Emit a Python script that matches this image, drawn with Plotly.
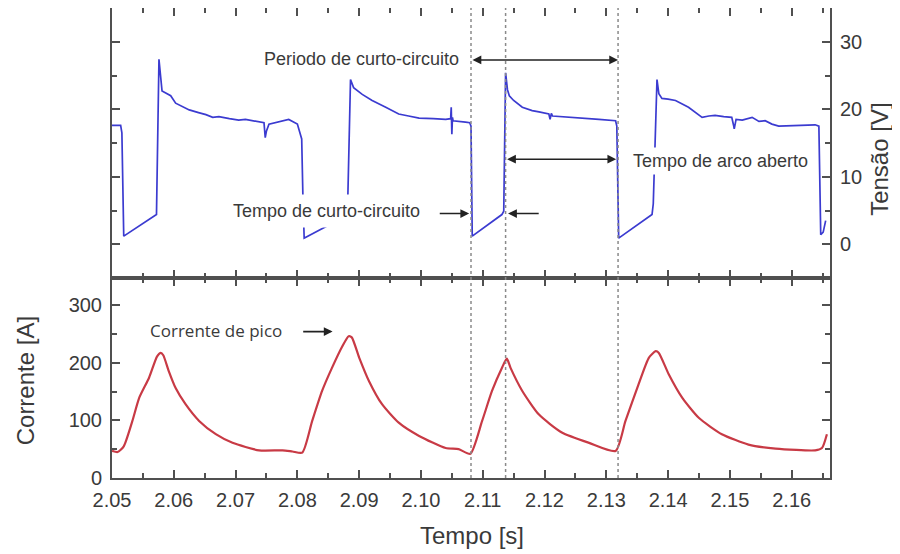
import plotly.graph_objects as go

# ---------------- data ----------------
voltage_time = [
    2.0500, 2.0514, 2.0516, 2.0519, 2.0572, 2.0576, 2.0581, 2.0588, 2.0595, 2.0603,
    2.0612, 2.0625, 2.0640, 2.0652, 2.0663, 2.0673, 2.0690, 2.0705, 2.0716, 2.0730,
    2.0746, 2.0748, 2.0750, 2.0754, 2.0770, 2.0786, 2.0800, 2.0807, 2.0809, 2.0810,
    2.0811, 2.0813, 2.0881, 2.0886, 2.0891, 2.0905, 2.0921, 2.0943, 2.0964, 2.0980,
    2.0997, 2.1020, 2.1040, 2.1048, 2.1049, 2.1050, 2.1051, 2.1052, 2.1072, 2.1079,
    2.1081, 2.1083, 2.1131, 2.1134, 2.1137, 2.1140, 2.1143, 2.1150, 2.1164, 2.1180,
    2.1191, 2.1207, 2.1209, 2.1211, 2.1213, 2.1230, 2.1250, 2.1270, 2.1288, 2.1315,
    2.1317, 2.1320, 2.1374, 2.1376, 2.1382, 2.1385, 2.1390, 2.1400, 2.1412, 2.1433,
    2.1445, 2.1455, 2.1466, 2.1476, 2.1490, 2.1503, 2.1506, 2.1507, 2.1510, 2.1520,
    2.1536, 2.1547, 2.1557, 2.1568, 2.1579, 2.1600, 2.1620, 2.1638, 2.1644, 2.1647,
    2.1651, 2.1655,
]
voltage_values = [
    17.6, 17.6, 16.5, 1.2, 4.4, 27.4, 22.7, 22.3, 22.0, 20.9,
    20.5, 19.9, 19.5, 19.2, 18.8, 18.9, 18.6, 18.4, 18.5, 18.3,
    18.0, 15.8, 16.8, 17.8, 18.2, 18.5, 17.8, 15.6, 7.0, 1.5,
    0.9, 1.0, 4.3, 24.4, 23.2, 22.2, 21.3, 20.3, 19.3, 19.0,
    18.7, 18.6, 18.5, 18.6, 20.3, 16.3, 18.8, 18.3, 18.1, 18.0,
    17.5, 1.2, 4.4, 4.9, 25.4, 22.9, 22.0, 21.3, 20.3, 19.8,
    19.6, 19.3, 18.5, 19.4, 19.0, 18.9, 18.8, 18.6, 18.5, 18.3,
    17.5, 0.9, 4.4, 6.0, 24.4, 22.3, 21.6, 21.5, 21.3, 20.3,
    19.5, 18.8, 19.0, 19.1, 18.9, 18.8, 17.6, 17.1, 18.5, 18.4,
    18.8, 18.2, 18.3, 17.8, 17.5, 17.6, 17.6, 17.7, 17.5, 1.4,
    1.8, 3.5,
]

current_time = [
    2.0500, 2.0509, 2.0519, 2.0533, 2.0544, 2.0560, 2.0573, 2.0579, 2.0583, 2.0592,
    2.0603, 2.0619, 2.0641, 2.0668, 2.0695, 2.0738, 2.0776, 2.0792, 2.0808, 2.0824,
    2.0840, 2.0856, 2.0873, 2.0883, 2.0888, 2.0900, 2.0916, 2.0937, 2.0964, 2.0997,
    2.1040, 2.1061, 2.1080, 2.1099, 2.1115, 2.1131, 2.1139, 2.1145, 2.1164, 2.1191,
    2.1228, 2.1272, 2.1315, 2.1331, 2.1352, 2.1369, 2.1380, 2.1385, 2.1401, 2.1423,
    2.1450, 2.1487, 2.1530, 2.1574, 2.1638, 2.1649, 2.1657,
]
current_values = [
    47, 45, 55, 99, 139, 174, 211, 217, 213, 185,
    156, 128, 99, 76, 61, 48, 48, 46, 44, 99,
    151, 191, 229, 246, 244, 209, 168, 128, 96, 73,
    52, 50, 42, 99, 151, 191, 207, 191, 151, 110,
    79, 61, 47, 99, 162, 209, 220, 217, 180, 139,
    104, 76, 58, 51, 48, 52, 76,
]

event_times = [2.1081, 2.1137, 2.1319]   # dotted reference lines

x_ticks = [2.05, 2.06, 2.07, 2.08, 2.09, 2.10, 2.11, 2.12, 2.13, 2.14, 2.15, 2.16]
x_tick_labels = ["2.05", "2.06", "2.07", "2.08", "2.09", "2.10",
                 "2.11", "2.12", "2.13", "2.14", "2.15", "2.16"]
v_ticks = [0, 10, 20, 30]
i_ticks = [0, 100, 200, 300]

# ---------------- figure ----------------
FONT = "Liberation Sans, Arial, sans-serif"
TXT = "#3a3a3a"
AX = "#505050"

fig = go.Figure()
fig.add_trace(go.Scatter(x=voltage_time, y=voltage_values, mode="lines",
                         line=dict(color="#3b3bd0", width=1.7),
                         xaxis="x2", yaxis="y2", showlegend=False))
fig.add_trace(go.Scatter(x=current_time, y=current_values, mode="lines",
                         line=dict(color="#c83a45", width=2.2, shape="spline",
                                   smoothing=0.6),
                         xaxis="x", yaxis="y", showlegend=False))

split = 200 / 470

common_x = dict(range=[2.05, 2.1662], tickmode="array", tickvals=x_ticks,
                ticktext=x_tick_labels, ticks="inside", ticklen=8, tickwidth=1.5,
                tickcolor=AX, minor=dict(dtick=0.005, tick0=2.05, ticks="inside",
                                         ticklen=5, tickwidth=1.5, tickcolor=AX),
                showline=True, linecolor=AX, linewidth=2, mirror="ticks",
                showgrid=False, zeroline=False, ticklabelstandoff=3,
                tickfont=dict(family=FONT, size=20, color=TXT))

# the page puts the figure 8 px in from the top-left corner; margins compensate
fig.update_layout(
    width=900, height=554,
    margin=dict(l=104, r=78, t=0, b=84, autoexpand=False),
    paper_bgcolor="white", plot_bgcolor="white",
    xaxis=dict(**common_x, anchor="y", domain=[0, 1]),
    xaxis2=dict(**common_x, anchor="y2", domain=[0, 1], matches="x",
                showticklabels=False),
    yaxis=dict(domain=[0, split], range=[0, 347], tickmode="array",
               tickvals=i_ticks, ticks="inside", ticklen=8, tickwidth=1.5,
               tickcolor=AX, minor=dict(dtick=50, tick0=0, ticks="inside",
                                        ticklen=5, tickwidth=1.5, tickcolor=AX),
               showline=True, linecolor=AX, linewidth=2, mirror="ticks",
               showgrid=False, zeroline=False, anchor="x", ticklabelstandoff=4,
               tickfont=dict(family=FONT, size=20, color=TXT)),
    yaxis2=dict(domain=[split, 1], range=[-5, 35], tickmode="array",
                tickvals=v_ticks, ticks="inside", ticklen=8, tickwidth=1.5,
                tickcolor=AX, minor=dict(dtick=5, tick0=0, ticks="inside",
                                         ticklen=5, tickwidth=1.5, tickcolor=AX),
                showline=True, linecolor=AX, linewidth=2, mirror="ticks",
                showgrid=False, zeroline=False, anchor="x2", side="right",
                ticklabelstandoff=4,
                tickfont=dict(family=FONT, size=20, color=TXT)),
)

# dotted reference lines across both panels
for t in event_times:
    fig.add_shape(type="line", xref="x", yref="paper", x0=t, x1=t, y0=0, y1=1,
                  line=dict(color="#8a8a8a", width=1.5, dash="dot"))

ann_font = dict(family=FONT, size=18, color=TXT)

def arrow(x_head, y_head, x_tail, y_tail, xr, yr, both=False):
    fig.add_annotation(x=x_head, y=y_head, ax=x_tail, ay=y_tail, xref=xr, yref=yr,
                       axref=xr, ayref=yr, text="", showarrow=True, arrowhead=2,
                       arrowsize=1.1, arrowwidth=1.6, arrowcolor="#222222",
                       arrowside="end+start" if both else "end")

# arrows (top panel)
arrow(event_times[2], 27.3, event_times[0], 27.3, "x2", "y2", both=True)
arrow(2.1316, 12.6, event_times[1], 12.6, "x2", "y2", both=True)
arrow(2.1078, 4.55, 2.1028, 4.55, "x2", "y2")
arrow(2.1141, 4.55, 2.1193, 4.55, "x2", "y2")
# arrow (bottom panel)
arrow(2.0857, 254, 2.0807, 254, "x", "y")

# text labels
fig.add_annotation(x=2.0904, y=27.4, xref="x2", yref="y2", text="Periodo de curto-circuito",
                   showarrow=False, font=ann_font, bgcolor="white", borderpad=2)
fig.add_annotation(x=2.0847, y=4.9, xref="x2", yref="y2", text="Tempo de curto-circuito",
                   showarrow=False, font=ann_font, bgcolor="white", borderpad=6)
fig.add_annotation(x=2.1485, y=12.4, xref="x2", yref="y2", text="Tempo de arco aberto",
                   showarrow=False, font=ann_font, bgcolor="white", borderpad=3)
fig.add_annotation(x=2.0669, y=256, xref="x", yref="y", text="Corrente de pico",
                   showarrow=False, font=dict(family="Open Sans, sans-serif", size=17,
                                              color=TXT))

# axis titles
title_font = dict(family=FONT, size=24, color=TXT)
fig.add_annotation(x=-0.121, y=0.206, xref="paper", yref="paper", text="Corrente [A]",
                   textangle=-90, showarrow=False, font=title_font,
                   xanchor="center", yanchor="middle")
fig.add_annotation(x=1.0696, y=0.679, xref="paper", yref="paper", text="Tensão [V]",
                   textangle=-90, showarrow=False, font=title_font,
                   xanchor="center", yanchor="middle")
fig.add_annotation(x=0.5014, y=-0.123, xref="paper", yref="paper", text="Tempo [s]",
                   showarrow=False, font=title_font,
                   xanchor="center", yanchor="middle")

fig.write_html("out.html")
